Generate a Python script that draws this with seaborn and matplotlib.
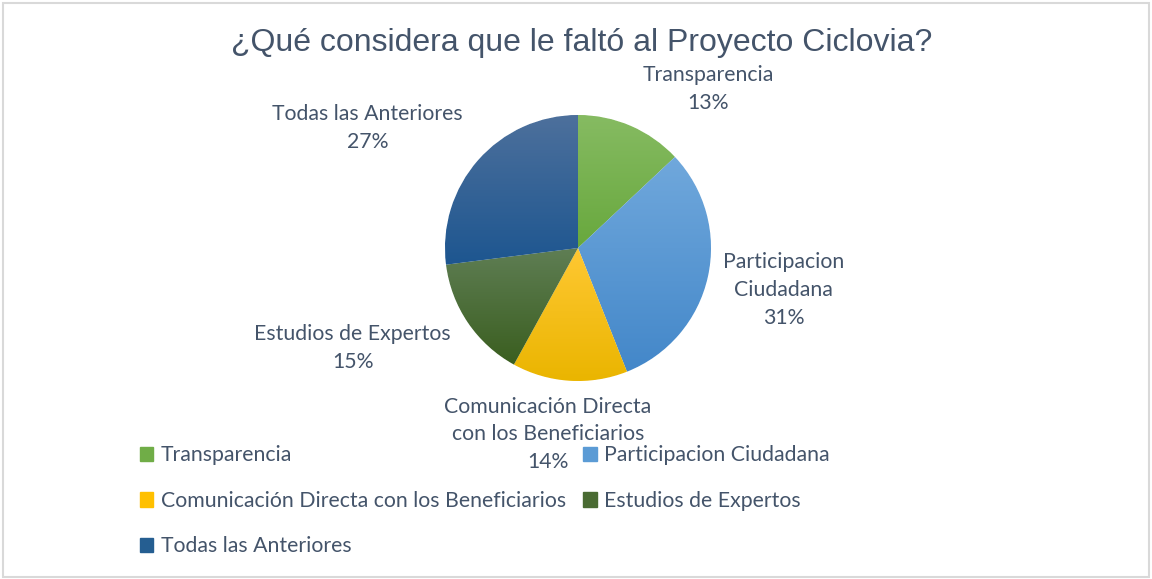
import matplotlib.pyplot as plt
import numpy as np
import seaborn as sns
from matplotlib.colors import LinearSegmentedColormap
from matplotlib.patches import Rectangle

categories = [
    "Transparencia",
    "Participacion Ciudadana",
    "Comunicación Directa con los Beneficiarios",
    "Estudios de Expertos",
    "Todas las Anteriores",
]
slice_labels = [
    "Transparencia",
    "Participacion\nCiudadana",
    "Comunicación Directa\ncon los Beneficiarios",
    "Estudios de Expertos",
    "Todas las Anteriores",
]
values = [13, 31, 14, 15, 27]
top_colors = ["#86BB62", "#70A8DC", "#FFC833", "#5F7E54", "#4D709C"]
base_colors = ["#70AD47", "#5B9BD5", "#FFC000", "#4A6B33", "#255E91"]
bottom_colors = ["#68A83D", "#4387C9", "#EAB500", "#3A5E1F", "#1D5690"]

TEXT = "#44546A"

sns.set_theme(style="white")
plt.rcParams["font.family"] = ["Lato", "DejaVu Sans"]

fig = plt.figure(figsize=(11.52, 5.79), dpi=100)
ax = fig.add_axes([0, 0, 1, 1])
ax.set_xlim(0, 1152)
ax.set_ylim(0, 579)
ax.set_aspect("equal")
ax.axis("off")

cx, cy, r = 578, 331, 133
wedges, _ = ax.pie(values, colors=base_colors, startangle=90, counterclock=False,
                   center=(cx, cy), radius=r,
                   wedgeprops=dict(edgecolor="white", linewidth=0.8))

# vertical gradient inside every slice
for w, c_top, c_bot in zip(wedges, top_colors, bottom_colors):
    bb = w.get_path().get_extents()
    cmap = LinearSegmentedColormap.from_list("g", [c_top, c_bot])
    grad = np.linspace(0, 1, 256).reshape(-1, 1)
    im = ax.imshow(grad, cmap=cmap, extent=[bb.x0, bb.x1, bb.y0, bb.y1],
                   origin="upper", aspect="auto", zorder=w.get_zorder())
    im.set_clip_path(w)
ax.set_xlim(0, 1152)
ax.set_ylim(0, 579)

# data labels, placed around each slice's mid angle
dist = [1.29, 1.135, 1.14, 1.215, 1.25]
shift = [1.4, -3.6, -7.8, 4.0, -4.8]
for w, lab, v, d, s in zip(wedges, slice_labels, values, dist, shift):
    mid = np.deg2rad((w.theta1 + w.theta2) / 2 + s)
    x = cx + d * r * np.cos(mid)
    y = cy + d * r * np.sin(mid)
    if abs(np.cos(mid)) < 0.25:
        ha, va = "center", "top"
    else:
        ha, va = ("left" if np.cos(mid) > 0 else "right"), "center"
    ax.text(x, y, f"{lab}\n{v}%", ha=ha, va=va, multialignment="center",
            fontsize=15.3, color=TEXT, linespacing=1.48)

fig.text(0.505, 0.925, "¿Qué considera que le faltó al Proyecto Ciclovia?",
         ha="center", va="center", fontsize=23, color=TEXT,
         family=["Liberation Sans", "DejaVu Sans"])

order = [0, 2, 4, 1, 3]
handles = [plt.Rectangle((0, 0), 1, 1, color=base_colors[i]) for i in order]
leg = fig.legend(handles, [categories[i] for i in order], ncol=2,
                 loc="upper left", bbox_to_anchor=(0.112, 0.249),
                 frameon=False, fontsize=15.3, labelcolor=TEXT,
                 handlelength=0.65, handleheight=0.65, handletextpad=0.35,
                 columnspacing=0.8, labelspacing=1.2, borderpad=0)

fig.patches.append(Rectangle((0.003, 0.003), 0.994, 0.992, transform=fig.transFigure,
                             fill=False, edgecolor="#D9D9D9", linewidth=1.5))

fig.savefig("out.png", dpi=100)
